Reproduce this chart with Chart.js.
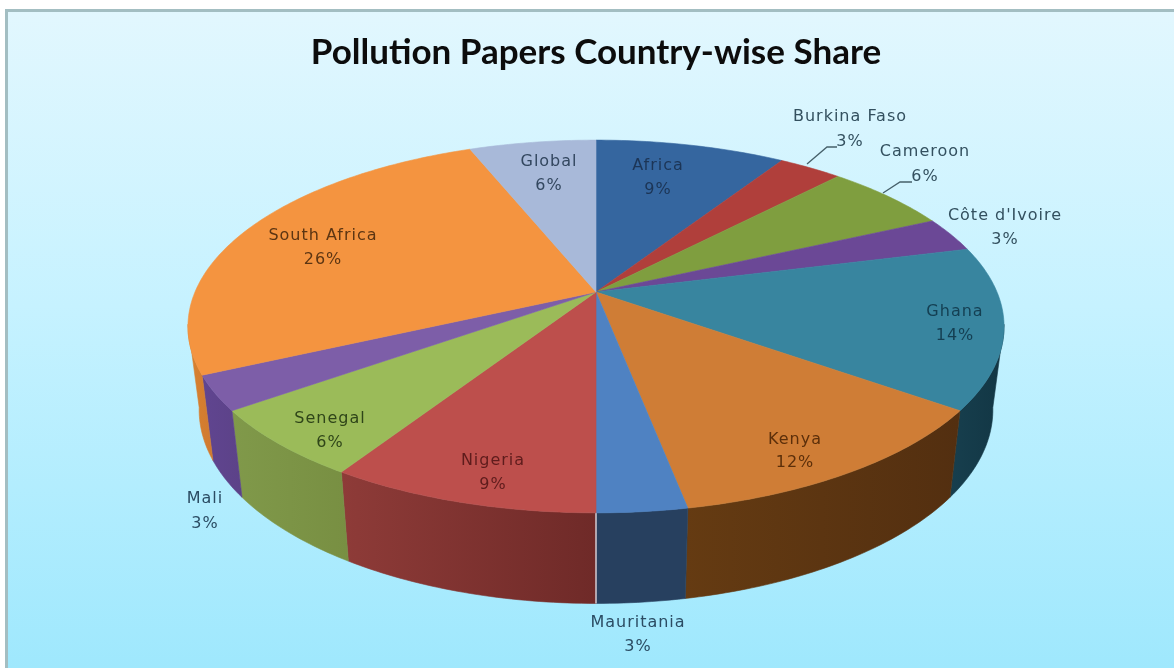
<!DOCTYPE html>
<html>
<head>
<meta charset="utf-8">
<title>Pollution Papers Country-wise Share</title>
<script src="https://cdn.jsdelivr.net/npm/chart.js"></script>
<style>
    html, body { margin: 0; padding: 0; background: #fff; }
    canvas { display: block; }
</style>
</head>
<body>
<canvas id="pieChart" width="1174" height="668"></canvas>
<script>
const countries = ["Africa", "Burkina Faso", "Cameroon", "Côte d'Ivoire", "Ghana", "Kenya",
    "Mauritania", "Nigeria", "Senegal", "Mali", "South Africa", "Global"];
const shares = [9, 3, 6, 3, 14, 12, 3, 9, 6, 3, 26, 6];

const topColors = ["#35669f", "#b03f3b", "#7f9e3f", "#6b4896", "#38859f", "#cf7d36",
    "#4f82c2", "#bd4f4c", "#9bbb59", "#7d5ea8", "#f49440", "#a8b9d9"];
const wallLeft = ["#27405f", "#702a28", "#627a30", "#60458c", "#173f4e", "#653b12",
    "#27405f", "#8e3b38", "#80994a", "#604590", "#d8812f", "#7c8aa8"];
const wallRight = ["#27405f", "#702a28", "#627a30", "#60458c", "#123644", "#532f10",
    "#27405f", "#6f2a28", "#788f42", "#5c4288", "#d07a30", "#7c8aa8"];
const textColors = ["#1c3556", "#33505f", "#33505f", "#33505f", "#143f52", "#5c2f0a",
    "#2b4c63", "#5e1c1c", "#2f4519", "#2b4c63", "#5c3512", "#33475f"];

// x of the label centre, y of the first line, y of the second line
const labelSpots = [[658, 166, 190], [850, 117, 142], [925, 152, 177], [1005, 216, 240],
    [955, 312, 336], [795, 440, 463], [638, 623, 647], [493, 461, 485],
    [330, 419, 443], [205, 499, 524], [323, 236, 260], [549, 162, 186]];
// leader lines for the two labels that sit off their slice
const leaders = [
    [[807, 164], [827, 147], [837, 147]],
    [[883, 193], [900, 182], [912, 182]]
];

// perspective disc: tilt skews it, the rings are the top face and the bottom edge
const tilt = 0.185;
const topRing = { cx: 596, cy: 292, a: 401, b: 180 };
const baseRing = { cx: 596, cy: 374, a: 390, b: 187 };
const wallFrom = 10 * Math.PI / 180;
const wallTo = 170 * Math.PI / 180;

function project(ring, angle) {
    const d = 1 - tilt * Math.sin(angle);
    return [ring.cx + ring.a * Math.cos(angle) / d, ring.cy + ring.b * Math.sin(angle) / d];
}

function rimPoints(ring, from, to) {
    const pts = [];
    const steps = Math.max(2, Math.ceil((to - from) / 0.015));
    for (let i = 0; i <= steps; i++) {
        pts.push(project(ring, from + (to - from) * i / steps));
    }
    return pts;
}

function tracePoints(ctx, pts) {
    pts.forEach((p, i) => i === 0 ? ctx.moveTo(p[0], p[1]) : ctx.lineTo(p[0], p[1]));
}

const panelBackground = {
    id: "panelBackground",
    beforeDraw(chart) {
        const ctx = chart.ctx;
        const grad = ctx.createLinearGradient(0, 10, 0, 668);
        grad.addColorStop(0, "#e2f7fe");
        grad.addColorStop(0.45, "#c6f2ff");
        grad.addColorStop(1, "#9fe8fd");
        ctx.save();
        ctx.fillStyle = "#fff";
        ctx.fillRect(0, 0, 1174, 668);
        ctx.fillStyle = grad;
        ctx.fillRect(7, 10, 1167, 658);
        ctx.fillStyle = "#a3bec2";
        ctx.fillRect(6, 9, 1168, 3);
        ctx.fillRect(5, 9, 3, 659);
        ctx.restore();
    }
};

// the arcs keep their angles from the pie controller, only the painting is replaced
const tiltedPie = {
    id: "tiltedPie",
    beforeDatasetDraw(chart) {
        const ctx = chart.ctx;
        const arcs = chart.getDatasetMeta(0).data;
        ctx.save();

        arcs.forEach((arc, i) => {
            const from = Math.max(arc.startAngle, wallFrom);
            const to = Math.min(arc.endAngle, wallTo);
            if (to <= from) return;
            const upper = rimPoints(topRing, from, to);
            const lower = rimPoints(baseRing, from, to).reverse();
            const xs = upper.concat(lower).map(p => p[0]);
            const grad = ctx.createLinearGradient(Math.min(...xs), 0, Math.max(...xs), 0);
            grad.addColorStop(0, wallLeft[i]);
            grad.addColorStop(1, wallRight[i]);
            ctx.beginPath();
            tracePoints(ctx, upper.concat(lower));
            ctx.closePath();
            ctx.fillStyle = grad;
            ctx.strokeStyle = grad;
            ctx.lineWidth = 0.6;
            ctx.fill();
            ctx.stroke();
        });

        // pale seam where the wall is cut at the front
        arcs.forEach(arc => {
            if (Math.abs(arc.startAngle - Math.PI / 2) < 0.01) {
                const p = project(topRing, arc.startAngle);
                const q = project(baseRing, arc.startAngle);
                ctx.beginPath();
                ctx.moveTo(p[0], p[1]);
                ctx.lineTo(q[0], q[1]);
                ctx.strokeStyle = "#d8d8e0";
                ctx.lineWidth = 1.4;
                ctx.stroke();
            }
        });

        arcs.forEach((arc, i) => {
            ctx.beginPath();
            tracePoints(ctx, [[topRing.cx, topRing.cy]].concat(rimPoints(topRing, arc.startAngle, arc.endAngle)));
            ctx.closePath();
            ctx.fillStyle = topColors[i];
            ctx.strokeStyle = topColors[i];
            ctx.lineWidth = 0.6;
            ctx.fill();
            ctx.stroke();
        });

        ctx.restore();
        return false;
    },
    afterDraw(chart) {
        const ctx = chart.ctx;
        ctx.save();
        ctx.strokeStyle = "#46606a";
        ctx.lineWidth = 1.3;
        leaders.forEach(line => {
            ctx.beginPath();
            tracePoints(ctx, line);
            ctx.stroke();
        });
        ctx.font = "16px 'DejaVu Sans'";
        ctx.letterSpacing = "1px";
        ctx.textAlign = "center";
        ctx.textBaseline = "middle";
        countries.forEach((name, i) => {
            const spot = labelSpots[i];
            ctx.fillStyle = textColors[i];
            ctx.fillText(name, spot[0], spot[1]);
            ctx.fillText(shares[i] + "%", spot[0], spot[2]);
        });
        ctx.restore();
    }
};

new Chart(document.getElementById("pieChart"), {
    type: "pie",
    data: {
        labels: countries,
        datasets: [{ data: shares, backgroundColor: topColors }]
    },
    options: {
        responsive: false,
        animation: false,
        layout: { padding: { left: 18, top: 10 } },
        plugins: {
            legend: { display: false },
            tooltip: { enabled: false },
            title: {
                display: true,
                text: "Pollution Papers Country-wise Share",
                color: "#0c0c0c",
                font: { family: "Lato", size: 35, weight: "bold" },
                padding: { top: 22, bottom: 10 }
            }
        }
    },
    plugins: [panelBackground, tiltedPie]
});
</script>
</body>
</html>
